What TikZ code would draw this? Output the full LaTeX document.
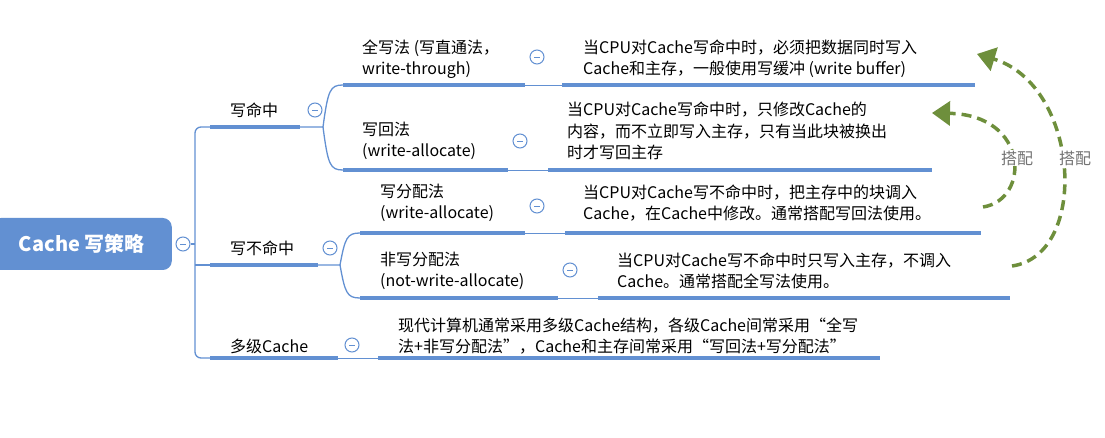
\documentclass[tikz,border=0pt]{standalone}
\usepackage{fontspec}
\setmainfont{Noto Sans CJK SC}
\usetikzlibrary{arrows.meta}
\definecolor{bl}{HTML}{6290D2}
\definecolor{gr}{HTML}{6E8F3C}
\begin{document}
\begin{tikzpicture}[x=1pt,y=-1pt,
  txt/.style={anchor=west,align=left,inner sep=0pt,font=\fontsize{16}{21.5}\selectfont},
  ul/.style={bl,line width=4pt},
  cn/.style={bl,line width=1.3pt},
  mn/.style={circle,draw=bl,line width=1pt,minimum size=14pt,inner sep=0pt,fill=white,
    path picture={\draw[bl,line width=0.9pt] ([xshift=-3pt]path picture bounding box.center)--([xshift=3pt]path picture bounding box.center);}},
  ga/.style={gr,line width=3.5pt,dash pattern=on 10pt off 6pt,-{Triangle[length=18pt,width=24pt]}},
  lab/.style={font=\fontsize{16}{18}\selectfont,text=gray!90!black,fill=white,inner sep=1pt}]
\useasboundingbox (0,0) rectangle (1105,438);
% root
\node[fill=bl,rounded corners=9pt,minimum width=180pt,minimum height=52pt,text=white,font=\fontsize{20}{22}\selectfont\bfseries,anchor=east,align=center] (root) at (172,244) {Cache 写策略};
\node[mn] (m0) at (183,244) {};
% level 1
\coordinate (a1) at (210,127); \coordinate (a2) at (300,127);
\coordinate (b1) at (210,265); \coordinate (b2) at (318,265);
\coordinate (c1) at (210,358); \coordinate (c2) at (338,358);
\draw[cn,rounded corners=6pt] (a1) -- (195,127) -- (195,358) -- (c1);
\draw[cn] (m0.east) -- (195,244);
\draw[cn] (195,265) -- (b1);
\draw[ul] (a1)--(a2); \draw[ul] (b1)--(b2); \draw[ul] (c1)--(c2);
\node[txt] (t1) at (230,110) {写命中};
\node[txt] (t2) at (230,248) {写不命中};
\node[txt] (t3) at (230,346) {多级Cache};
\node[mn] (m1) at (315,110) {};
\node[mn] (m2) at (330,248) {};
\node[mn] (m3) at (352,345) {};
% level 2
\coordinate (d1) at (343,85); \coordinate (d2) at (525,85);
\coordinate (e1) at (343,170); \coordinate (e2) at (508,170);
\coordinate (f1) at (360,233); \coordinate (f2) at (525,233);
\coordinate (g1) at (360,298); \coordinate (g2) at (558,298);
\draw[cn] (a2) -- (323,127) .. controls (328,90) and (330,85) .. (d1);
\draw[cn] (323,127) .. controls (328,165) and (330,170) .. (e1);
\draw[cn] (b2) -- (340,265) .. controls (345,238) and (347,233) .. (f1);
\draw[cn] (340,265) .. controls (345,293) and (347,298) .. (g1);
\draw[ul] (d1)--(d2); \draw[ul] (e1)--(e2); \draw[ul] (f1)--(f2); \draw[ul] (g1)--(g2);
\node[txt] (s1) at (362,59) {全写法 (写直通法，\\write-through)};
\node[txt] (s2) at (362,141) {写回法\\(write-allocate)};
\node[txt] (s3) at (380,203) {写分配法\\(write-allocate)};
\node[txt] (s4) at (380,271) {非写分配法\\(not-write-allocate)};
\node[mn] (n1) at (537,57) {};
\node[mn] (n2) at (520,141) {};
\node[mn] (n3) at (537,206) {};
\node[mn] (n4) at (570,270) {};
% level 3
\coordinate (h1) at (562,85); \coordinate (h2) at (975,85);
\coordinate (i1) at (548,170); \coordinate (i2) at (932,170);
\coordinate (j1) at (565,233); \coordinate (j2) at (981,233);
\coordinate (k1) at (598,298); \coordinate (k2) at (1010,298);
\coordinate (l1) at (378,358); \coordinate (l2) at (880,358);
\draw[cn,line width=0.8pt] (d2)--(h1); \draw[cn,line width=0.8pt] (e2)--(i1);
\draw[cn,line width=0.8pt] (f2)--(j1); \draw[cn,line width=0.8pt] (g2)--(k1);
\draw[cn,line width=0.8pt] (c2)--(l1);
\draw[ul] (h1)--(h2); \draw[ul] (i1)--(i2); \draw[ul] (j1)--(j2); \draw[ul] (k1)--(k2); \draw[ul] (l1)--(l2);
\node[txt] (u1) at (583,59) {当CPU对Cache写命中时，必须把数据同时写入\\Cache和主存，一般使用写缓冲 (write buffer)};
\node[txt] (u2) at (567,131) {当CPU对Cache写命中时，只修改Cache的\\内容，而不立即写入主存，只有当此块被换出\\时才写回主存};
\node[txt] (u3) at (583,203) {当CPU对Cache写不命中时，把主存中的块调入\\Cache，在Cache中修改。通常搭配写回法使用。};
\node[txt] (u4) at (617,271) {当CPU对Cache写不命中时只写入主存，不调入\\Cache。通常搭配全写法使用。};
\node[txt] (u5) at (398,336) {现代计算机通常采用多级Cache结构，各级Cache间常采用“全写\\法+非写分配法”，Cache和主存间常采用“写回法+写分配法”};
% arrows
\coordinate (p1) at (983,207); \coordinate (q1) at (932,113);
\coordinate (p2) at (1012,266); \coordinate (q2) at (977,54);
\draw[ga] (p1) .. controls (1030,200) and (1030,115) .. (q1);
\draw[ga] (p2) .. controls (1090,255) and (1080,85) .. (q2);
\node[lab] (g1l) at (1017,158) {搭配};
\node[lab] (g2l) at (1075,158) {搭配};
\end{tikzpicture}
\end{document}
